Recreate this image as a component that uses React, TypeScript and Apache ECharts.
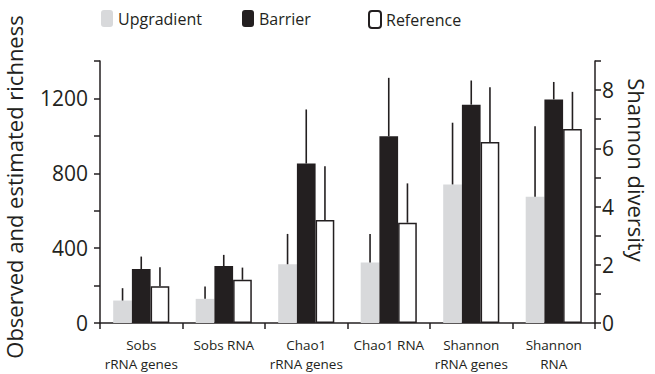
import { useEffect, useRef } from 'react';
import * as echarts from 'echarts';

// Sample groups along the category axis
const categories = [
  'Sobs\nrRNA genes',
  'Sobs RNA',
  'Chao1\nrRNA genes',
  'Chao1 RNA',
  'Shannon\nrRNA genes',
  'Shannon\nRNA',
];

// Richness estimates (left axis) for the first four groups: mean and upper SE
const upgradientRichness = [120, 129, 314, 323];
const upgradientRichnessSE = [66, 66, 162, 153];
const barrierRichness = [288, 304, 852, 998];
const barrierRichnessSE = [67, 60, 289, 312];
const referenceRichness = [197, 231, 550, 536];
const referenceRichnessSE = [101, 65, 288, 210];

// Shannon diversity (right axis) for the last two groups
const upgradientShannon = [4.76, 4.34];
const upgradientShannonSE = [2.12, 2.42];
const barrierShannon = [7.5, 7.68];
const barrierShannonSE = [0.83, 0.6];
const referenceShannon = [6.22, 6.66];
const referenceShannonSE = [1.88, 1.28];

// Axis ranges and labelled ticks
const richnessRange = [0, 1400];
const richnessStep = 200;
const richnessTickLabels = [0, 400, 800, 1200];
const shannonRange = [0, 9];
const shannonStep = 1;
const shannonTickLabels = [0, 2, 4, 6, 8];

const SHANNON_START = 4; // index of the first Shannon group

const INK = '#231f20';
const GREY = '#d8d9db';
const FONT = 'Open Sans';
const GAP = 0.32; // barCategoryGap as a fraction

type Vals = number[];

function pad(values: Vals, start: number): (number | string)[] {
  return categories.map((_, i) =>
    i - start >= 0 && i - start < values.length ? values[i - start] : '-'
  );
}

function errorSeries(
  name: string,
  slot: number,
  values: Vals,
  se: Vals,
  start: number,
  axis: number
) {
  return {
    type: 'custom',
    name,
    xAxisIndex: axis,
    yAxisIndex: axis,
    z: 5,
    silent: true,
    encode: { x: 0, y: 1 },
    data: values.map((v, k) => [k + start, v, se[k]]),
    renderItem: (_params: any, api: any) => {
      const x = api.value(0);
      const v = api.value(1);
      const e = api.value(2);
      const base = api.coord([x, v]);
      const tip = api.coord([x, v + e]);
      const band = api.size([1, 0])[0];
      const dx = ((slot - 1) * band * (1 - GAP)) / 3;
      return {
        type: 'line',
        shape: { x1: base[0] + dx, y1: base[1], x2: base[0] + dx, y2: tip[1] },
        style: { stroke: INK, lineWidth: 1.6 },
      };
    },
  };
}

const styles: Record<string, any> = {
  Upgradient: { color: GREY },
  Barrier: { color: INK },
  Reference: { color: '#ffffff', borderColor: INK, borderWidth: 1.5 },
};

function barSeries(name: string, values: Vals, start: number, axis: number) {
  return {
    type: 'bar',
    name,
    xAxisIndex: axis,
    yAxisIndex: axis,
    data: pad(values, start),
    barGap: '0%',
    barCategoryGap: `${GAP * 100}%`,
    itemStyle: styles[name],
    silent: true,
  };
}

export default function App() {
  const ref = useRef<HTMLDivElement>(null);

  useEffect(() => {
    if (!ref.current) return;
    const chart = echarts.init(ref.current, undefined, { renderer: 'svg' });

    const legendBase = {
      top: 10,
      padding: 0,
      itemWidth: 12,
      itemHeight: 17,
      selectedMode: false,
      textStyle: { fontFamily: FONT, fontSize: 16, color: INK },
    };

    const valueAxisCommon = {
      type: 'value',
      splitLine: { show: false },
      axisLine: { show: true, lineStyle: { color: INK, width: 1.5 } },
      axisTick: { show: true, length: 6, lineStyle: { color: INK, width: 1.5 } },
    };

    chart.setOption({
      animation: false,
      textStyle: { fontFamily: FONT, color: INK },
      grid: { left: 100, right: 60, top: 61, bottom: 51 },
      legend: [
        { ...legendBase, left: 101, data: ['Upgradient'] },
        { ...legendBase, left: 242, data: ['Barrier'] },
        { ...legendBase, left: 368, data: ['Reference'] },
      ],
      xAxis: [
        {
          type: 'category',
          data: categories,
          axisLine: { lineStyle: { color: INK, width: 1.5 } },
          axisTick: { show: true, length: 6, interval: 0, lineStyle: { color: INK, width: 1.5 } },
          axisLabel: {
            interval: 0,
            margin: 12,
            fontFamily: FONT,
            fontSize: 13.5,
            lineHeight: 19,
            color: INK,
          },
        },
        { type: 'category', data: categories, show: false },
      ],
      yAxis: [
        {
          ...valueAxisCommon,
          position: 'left',
          min: richnessRange[0],
          max: richnessRange[1],
          interval: richnessStep,
          axisLabel: {
            margin: 12,
            fontFamily: FONT,
            fontSize: 21,
            color: INK,
            formatter: (v: number) => (richnessTickLabels.includes(v) ? String(v) : ''),
          },
        },
        {
          ...valueAxisCommon,
          position: 'right',
          min: shannonRange[0],
          max: shannonRange[1],
          interval: shannonStep,
          axisLabel: {
            margin: 7,
            fontFamily: FONT,
            fontSize: 21,
            color: INK,
            formatter: (v: number) => (shannonTickLabels.includes(v) ? String(v) : ''),
          },
        },
      ],
      graphic: [
        {
          type: 'text',
          x: 14,
          y: 187,
          rotation: Math.PI / 2,
          style: {
            text: 'Observed and estimated richness',
            fontFamily: FONT,
            fontSize: 22,
            fill: INK,
            align: 'center',
            verticalAlign: 'middle',
          },
        },
        {
          type: 'text',
          x: 637,
          y: 170,
          rotation: -Math.PI / 2,
          style: {
            text: 'Shannon diversity',
            fontFamily: FONT,
            fontSize: 22,
            fill: INK,
            align: 'center',
            verticalAlign: 'middle',
          },
        },
      ],
      series: [
        barSeries('Upgradient', upgradientRichness, 0, 0),
        barSeries('Barrier', barrierRichness, 0, 0),
        barSeries('Reference', referenceRichness, 0, 0),
        barSeries('Upgradient', upgradientShannon, SHANNON_START, 1),
        barSeries('Barrier', barrierShannon, SHANNON_START, 1),
        barSeries('Reference', referenceShannon, SHANNON_START, 1),
        errorSeries('Upgradient SE', 0, upgradientRichness, upgradientRichnessSE, 0, 0),
        errorSeries('Barrier SE', 1, barrierRichness, barrierRichnessSE, 0, 0),
        errorSeries('Reference SE', 2, referenceRichness, referenceRichnessSE, 0, 0),
        errorSeries('Upgradient SE', 0, upgradientShannon, upgradientShannonSE, SHANNON_START, 1),
        errorSeries('Barrier SE', 1, barrierShannon, barrierShannonSE, SHANNON_START, 1),
        errorSeries('Reference SE', 2, referenceShannon, referenceShannonSE, SHANNON_START, 1),
      ],
    });

    return () => chart.dispose();
  }, []);

  return (
    <div
      ref={ref}
      style={{ position: 'fixed', left: 0, top: 0, width: 655, height: 374, background: '#ffffff' }}
    />
  );
}
